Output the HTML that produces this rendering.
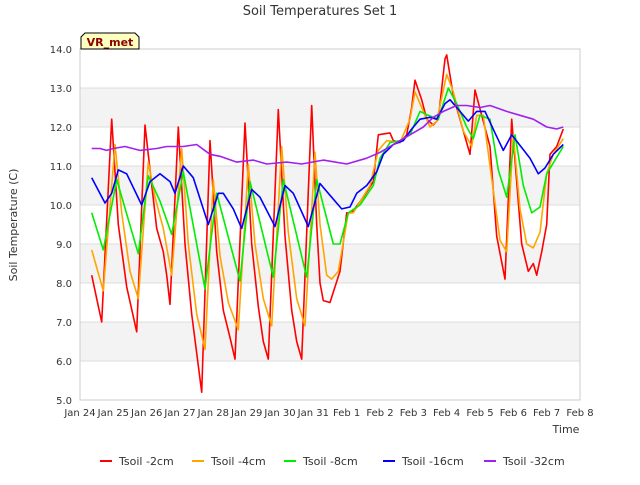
<!DOCTYPE html>
<html><head><meta charset="utf-8"><style>
body{margin:0;background:#fff;font-family:"Liberation Sans",sans-serif}
svg text{font-family:"DejaVu Sans","Liberation Sans",sans-serif}
</style></head><body>
<svg id="chart" width="640" height="480" viewBox="0 0 640 480" xmlns="http://www.w3.org/2000/svg">
<rect width="640" height="480" fill="#fff"/>
<g id="bands"></g><g id="grid"></g>
<rect x="80" y="49" width="500" height="351" fill="none" stroke="#ccc"/>
<g id="axes"></g><g id="series"></g>
<text x="320" y="15" text-anchor="middle" font-size="13" fill="#333">Soil Temperatures Set 1</text>
<text transform="translate(17,225) rotate(-90)" text-anchor="middle" font-size="11" fill="#333">Soil Temperature (C)</text>
<text x="566" y="433" text-anchor="middle" font-size="11" fill="#333">Time</text>
<g><path d="M81,49 L81,37 L85,33 L135,33 L139,37 L139,49 Z" fill="#ffffc0" stroke="#000"/><text x="110" y="46" text-anchor="middle" font-size="11" font-weight="bold" fill="#8b0000">VR_met</text></g>
<g id="legend"></g>
</svg>
<script>
const yTicks=[5,6,7,8,9,10,11,12,13,14];
const xTickLabels=["Jan 24","Jan 25","Jan 26","Jan 27","Jan 28","Jan 29","Jan 30","Jan 31","Feb 1","Feb 2","Feb 3","Feb 4","Feb 5","Feb 6","Feb 7","Feb 8"];
const seriesNames=["Tsoil -2cm","Tsoil -4cm","Tsoil -8cm","Tsoil -16cm","Tsoil -32cm"];
const seriesColors=["#ff0000","#ffa500","#00ee00","#0000ff","#a020f0"];
const t2=[0.35,0.65,0.95,1.15,1.4,1.7,1.95,2.1,2.3,2.5,2.6,2.7,2.95,3.15,3.35,3.5,3.65,3.9,4.1,4.3,4.5,4.65,4.95,5.15,5.35,5.5,5.65,5.95,6.15,6.35,6.5,6.65,6.95,7.1,7.2,7.3,7.5,7.65,7.8,8.0,8.15,8.5,8.8,8.95,9.3,9.4,9.6,9.8,9.95,10.05,10.25,10.4,10.6,10.75,10.95,11.0,11.2,11.5,11.7,11.85,12.05,12.3,12.5,12.75,12.95,13.25,13.45,13.6,13.7,13.85,14.0,14.1,14.3,14.5];
const v2=[8.2,7.0,12.2,9.5,7.9,6.75,12.05,10.9,9.4,8.8,8.2,7.45,12.0,9.0,7.2,6.2,5.2,11.65,8.8,7.3,6.6,6.05,12.1,9.0,7.4,6.5,6.05,12.45,9.2,7.3,6.5,6.05,12.55,9.5,8.0,7.55,7.5,7.9,8.3,9.8,9.8,10.2,10.6,11.8,11.85,11.65,11.6,11.8,12.5,13.2,12.7,12.2,12.05,12.2,13.75,13.85,12.8,11.9,11.3,12.95,12.3,11.5,9.2,8.1,12.2,9.0,8.3,8.5,8.2,8.8,9.5,11.3,11.5,11.95];
const t4=[0.35,0.7,1.05,1.25,1.5,1.75,2.05,2.25,2.5,2.75,3.05,3.25,3.5,3.75,4.0,4.2,4.45,4.75,5.05,5.25,5.5,5.75,6.05,6.25,6.5,6.75,7.05,7.2,7.4,7.55,7.75,8.05,8.2,8.7,8.95,9.2,9.6,9.9,10.05,10.25,10.5,10.7,11.0,11.2,11.5,11.75,11.9,12.1,12.3,12.6,12.8,13.0,13.2,13.4,13.6,13.8,14.0,14.2,14.5];
const v4=[8.85,7.8,11.55,9.8,8.3,7.6,11.1,10.2,9.4,8.2,11.45,9.0,7.2,6.3,10.65,8.7,7.5,6.8,11.05,9.0,7.6,6.9,11.5,9.3,7.6,6.9,11.35,9.5,8.2,8.1,8.3,9.8,9.8,10.5,11.4,11.65,11.6,12.2,12.9,12.5,12.0,12.15,13.35,12.9,11.9,11.5,12.3,12.3,11.0,9.1,8.8,11.8,9.9,9.0,8.9,9.3,10.8,11.3,11.7];
const t8=[0.35,0.7,1.1,1.75,2.05,2.4,2.75,3.1,3.75,4.1,4.8,5.1,5.8,6.1,6.8,7.1,7.6,7.8,8.05,8.4,8.8,9.0,9.3,9.6,9.9,10.2,10.45,10.75,11.05,11.3,11.6,11.8,12.0,12.3,12.55,12.8,13.05,13.3,13.55,13.8,14.0,14.5];
const v8=[9.8,8.85,10.65,8.75,10.75,10.1,9.25,10.85,7.85,10.3,8.05,10.6,8.15,10.65,8.15,10.65,9.0,9.0,9.8,10.0,10.5,11.2,11.6,11.65,11.8,12.4,12.3,12.2,13.0,12.6,12.0,11.7,12.3,12.2,10.9,10.2,11.8,10.5,9.8,9.95,10.8,11.5];
const t16=[0.35,0.75,0.95,1.15,1.4,1.85,2.1,2.4,2.7,2.85,3.1,3.4,3.85,4.15,4.3,4.6,4.85,5.15,5.4,5.85,6.15,6.4,6.85,7.2,7.45,7.85,8.1,8.3,8.6,8.9,9.1,9.4,9.7,9.95,10.2,10.5,10.7,10.95,11.1,11.4,11.65,11.9,12.15,12.45,12.7,12.95,13.5,13.75,13.95,14.2,14.5];
const v16=[10.7,10.05,10.3,10.9,10.8,10.0,10.6,10.8,10.6,10.3,11.0,10.7,9.5,10.3,10.3,9.9,9.4,10.4,10.2,9.45,10.5,10.3,9.45,10.55,10.3,9.9,9.95,10.3,10.5,10.85,11.3,11.55,11.65,11.95,12.2,12.25,12.2,12.6,12.7,12.4,12.15,12.4,12.4,11.85,11.4,11.8,11.2,10.8,10.95,11.3,11.55];
const t32=[0.35,0.6,0.8,1.0,1.35,1.8,2.3,2.6,3.1,3.5,3.9,4.2,4.7,5.2,5.6,6.2,6.65,7.3,8.0,8.6,9.0,9.5,9.9,10.3,10.6,10.9,11.3,11.6,12.0,12.3,12.8,13.2,13.6,14.0,14.3,14.5];
const v32=[11.45,11.45,11.4,11.45,11.5,11.4,11.45,11.5,11.5,11.55,11.3,11.25,11.1,11.15,11.05,11.1,11.05,11.15,11.05,11.2,11.35,11.6,11.8,12.0,12.25,12.4,12.55,12.55,12.5,12.55,12.4,12.3,12.2,12.0,11.95,12.0];
const allT=[t2,t4,t8,t16,t32], allV=[v2,v4,v8,v16,v32];
const X0=80,X1=580,Y0=400,Y1=49;
const xs=d=>X0+(X1-X0)*d/15, ys=v=>Y0-(Y0-Y1)*(v-5)/9;
const NS="http://www.w3.org/2000/svg";
function mk(tag,attrs,parent,txt){const e=document.createElementNS(NS,tag);for(const k in attrs)e.setAttribute(k,attrs[k]);if(txt!==undefined)e.textContent=txt;document.getElementById(parent).appendChild(e);return e;}
for(let i=0;i<yTicks.length-1;i++){if(i%2===1){const r=mk('rect',{x:X0,y:ys(yTicks[i+1]),width:X1-X0,height:ys(yTicks[i])-ys(yTicks[i+1]),fill:'#f3f3f3'},'bands');

}}
yTicks.forEach(v=>{const l=mk('line',{x1:X0,x2:X1,y1:ys(v),y2:ys(v),stroke:'#ddd'},'grid');


const t=mk('text',{x:X0-8,y:ys(v)+4,'text-anchor':'end','font-size':'10',fill:'#333'},'axes',v.toFixed(1));

});
xTickLabels.forEach((s,i)=>{const t=mk('text',{x:xs(i),y:416,'text-anchor':'middle','font-size':'10',fill:'#333'},'axes',s);

});
allT.forEach((ts,k)=>{const pts=ts.map((d,i)=>xs(d).toFixed(1)+','+ys(allV[k][i]).toFixed(1)).join(' ');
const p=mk('polyline',{points:pts,fill:'none',stroke:seriesColors[k],'stroke-width':'1.6','stroke-linejoin':'round'},'series');

});
const lx=[100,192,284,383,484];
seriesNames.forEach((n,k)=>{const g=mk('g',{},'legend');


const l=document.createElementNS(NS,'line');l.setAttribute('x1',lx[k]);l.setAttribute('x2',lx[k]+12);l.setAttribute('y1',461);l.setAttribute('y2',461);l.setAttribute('stroke',seriesColors[k]);l.setAttribute('stroke-width','2');g.appendChild(l);
const t=document.createElementNS(NS,'text');t.setAttribute('x',lx[k]+19);t.setAttribute('y',465);t.setAttribute('font-size','11');t.setAttribute('fill','#333');t.textContent=n;g.appendChild(t);});
</script>
</body></html>
